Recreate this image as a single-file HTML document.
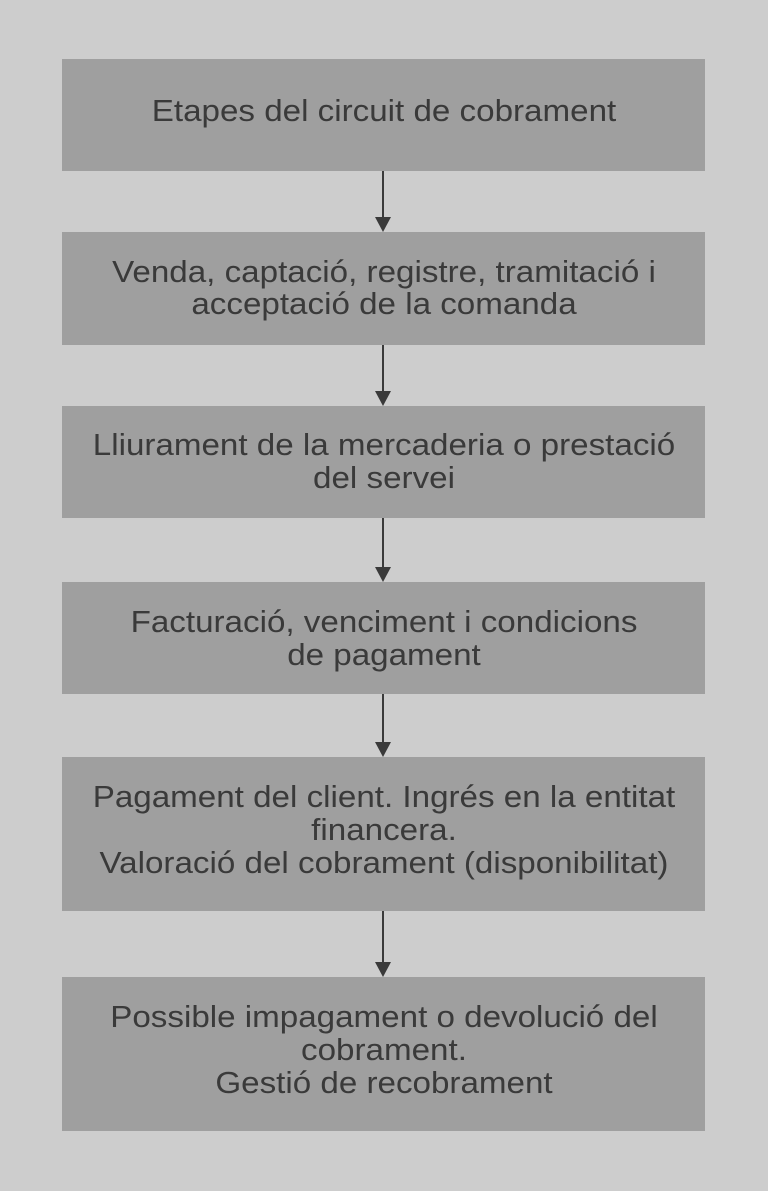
<!DOCTYPE html>
<html><head><meta charset="utf-8"><style>
html,body{margin:0;padding:0;background:#cdcdcd;}
svg{display:block}
text{font-family:"Liberation Sans",sans-serif;font-size:31px;fill:#3a3a3a;text-anchor:middle;}
</style></head><body>
<svg width="768" height="1191" viewBox="0 0 768 1191">
<rect width="768" height="1191" fill="#cdcdcd"/>
<g fill="#9f9f9f">
<rect x="62" y="59" width="643" height="112"/>
<rect x="62" y="232" width="643" height="113"/>
<rect x="62" y="406" width="643" height="112"/>
<rect x="62" y="582" width="643" height="112"/>
<rect x="62" y="757" width="643" height="154"/>
<rect x="62" y="977" width="643" height="154"/>
</g>
<g stroke="#3a3a3a" stroke-width="2">
<line x1="383" y1="171" x2="383" y2="220"/>
<line x1="383" y1="345" x2="383" y2="394"/>
<line x1="383" y1="518" x2="383" y2="570"/>
<line x1="383" y1="694" x2="383" y2="745"/>
<line x1="383" y1="911" x2="383" y2="965"/>
</g>
<g fill="#3a3a3a">
<polygon points="375,217 391,217 383,232"/>
<polygon points="375,391 391,391 383,406"/>
<polygon points="375,567 391,567 383,582"/>
<polygon points="375,742 391,742 383,757"/>
<polygon points="375,962 391,962 383,977"/>
</g>
<g transform="translate(384,0) scale(1.07,1) translate(-384,0)">
<text x="384" y="121">Etapes del circuit de cobrament</text>
<text x="384" y="282">Venda, captació, registre, tramitació i</text>
<text x="384" y="314">acceptació de la comanda</text>
<text x="384" y="455">Lliurament de la mercaderia o prestació</text>
<text x="384" y="488">del servei</text>
<text x="384" y="632">Facturació, venciment i condicions</text>
<text x="384" y="665">de pagament</text>
<text x="384" y="807">Pagament del client. Ingrés en la entitat</text>
<text x="384" y="840">financera.</text>
<text x="384" y="873">Valoració del cobrament (disponibilitat)</text>
<text x="384" y="1027">Possible impagament o devolució del</text>
<text x="384" y="1060">cobrament.</text>
<text x="384" y="1093">Gestió de recobrament</text>
</g>
</svg>
</body></html>
